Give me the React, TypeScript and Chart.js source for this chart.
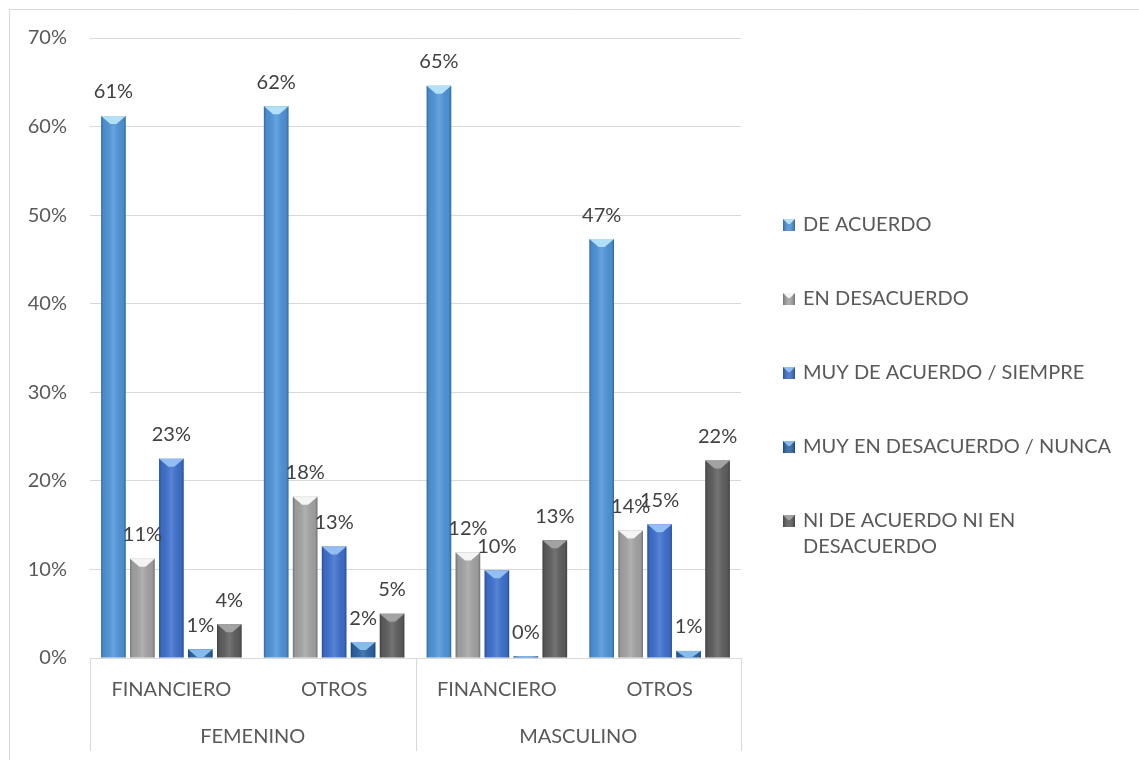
import React, { useEffect, useRef } from "react";
import { Chart, registerables } from "chart.js";

Chart.register(...registerables);

// ---- data ----
const groups = ["FEMENINO", "MASCULINO"];
const categories = ["FINANCIERO", "OTROS", "FINANCIERO", "OTROS"];
const categoryGroup = [0, 0, 1, 1];

const seriesNames = [
  "DE ACUERDO",
  "EN DESACUERDO",
  "MUY DE ACUERDO / SIEMPRE",
  "MUY EN DESACUERDO / NUNCA",
  "NI DE ACUERDO NI EN DESACUERDO",
];
const legendLines = [
  ["DE ACUERDO"],
  ["EN DESACUERDO"],
  ["MUY DE ACUERDO / SIEMPRE"],
  ["MUY EN DESACUERDO / NUNCA"],
  ["NI DE ACUERDO NI EN", "DESACUERDO"],
];

const deAcuerdo = [61.2, 62.3, 64.6, 47.3];
const enDesacuerdo = [11.2, 18.2, 11.9, 14.4];
const muyDeAcuerdo = [22.5, 12.6, 9.9, 15.1];
const muyEnDesacuerdo = [1.0, 1.8, 0.2, 0.8];
const niNi = [3.8, 5.0, 13.3, 22.3];

const yTickValues = [0, 10, 20, 30, 40, 50, 60, 70];

// ---- styles ----
const seriesColors = ["#4e95da", "#a4a4a4", "#3d70cf", "#2b64a6", "#5e5e5e"];
const topColors = ["#b2e0f8", "#f4f4f4", "#94bdf2", "#86bbec", "#a2a2a2"];
const FONT = "Lato, 'Open Sans', sans-serif";
const FS = 20;
const TEXT = "#595959";

const seriesValues = [deAcuerdo, enDesacuerdo, muyDeAcuerdo, muyEnDesacuerdo, niNi];

const framePlugin = {
  id: "frame",
  beforeDraw(chart: any) {
    const ctx = chart.ctx;
    ctx.save();
    ctx.fillStyle = "#ffffff";
    ctx.fillRect(0, 0, chart.width, chart.height);
    ctx.strokeStyle = "#d9d9d9";
    ctx.lineWidth = 1;
    ctx.beginPath();
    ctx.moveTo(9.5, chart.height);
    ctx.lineTo(9.5, 9.5);
    ctx.lineTo(chart.width, 9.5);
    ctx.stroke();
    ctx.restore();
  },
};

const bevelPlugin = {
  id: "bevel",
  afterDatasetsDraw(chart: any) {
    const ctx = chart.ctx;
    chart.data.datasets.forEach((_ds: any, di: number) => {
      const meta = chart.getDatasetMeta(di);
      meta.data.forEach((bar: any) => {
        const { x, y, base, width } = bar.getProps(["x", "y", "base", "width"], true);
        const l = x - width / 2;
        const r = x + width / 2;
        const h = base - y;
        if (h <= 0) return;
        ctx.save();
        const g = ctx.createLinearGradient(l, 0, r, 0);
        g.addColorStop(0, "rgba(0,0,0,0.30)");
        g.addColorStop(0.1, "rgba(0,0,0,0.06)");
        g.addColorStop(0.5, "rgba(255,255,255,0.14)");
        g.addColorStop(0.9, "rgba(0,0,0,0.06)");
        g.addColorStop(1, "rgba(0,0,0,0.30)");
        ctx.fillStyle = g;
        ctx.fillRect(l, y, width, h);
        const bh = Math.min(8, h);
        ctx.beginPath();
        ctx.moveTo(l, y);
        ctx.lineTo(r, y);
        ctx.lineTo(x + 3, y + bh);
        ctx.lineTo(x - 3, y + bh);
        ctx.closePath();
        ctx.fillStyle = topColors[di];
        ctx.fill();
        ctx.restore();
      });
    });
  },
};

const labelPlugin = {
  id: "valueLabels",
  afterDatasetsDraw(chart: any) {
    const ctx = chart.ctx;
    ctx.save();
    ctx.font = `${FS}px ${FONT}`;
    ctx.fillStyle = "#404040";
    ctx.textAlign = "center";
    ctx.textBaseline = "middle";
    chart.data.datasets.forEach((ds: any, di: number) => {
      const meta = chart.getDatasetMeta(di);
      meta.data.forEach((bar: any, i: number) => {
        const { x, y } = bar.getProps(["x", "y"], true);
        ctx.fillText(Math.round(ds.data[i]) + "%", x, y - 24);
      });
    });
    ctx.restore();
  },
};

const axisGroupPlugin = {
  id: "axisGroups",
  afterDraw(chart: any) {
    const ctx = chart.ctx;
    const xs = chart.scales.x;
    const area = chart.chartArea;
    const catW = (area.right - area.left) / categories.length;
    ctx.save();
    ctx.strokeStyle = "#d9d9d9";
    ctx.lineWidth = 1;
    ctx.font = `${FS}px ${FONT}`;
    ctx.fillStyle = TEXT;
    ctx.textAlign = "center";
    ctx.textBaseline = "middle";
    groups.forEach((gname, g) => {
      const idx = categoryGroup.map((cg, i) => (cg === g ? i : -1)).filter((i) => i >= 0);
      const left = xs.getPixelForValue(idx[0]) - catW / 2;
      const right = xs.getPixelForValue(idx[idx.length - 1]) + catW / 2;
      [left, right].forEach((px) => {
        const xx = Math.round(px) + 0.5;
        ctx.beginPath();
        ctx.moveTo(xx, area.bottom);
        ctx.lineTo(xx, 751);
        ctx.stroke();
      });
      ctx.fillText(gname, (left + right) / 2, 737);
    });
    ctx.restore();
  },
};

const legendPlugin = {
  id: "sideLegend",
  afterDraw(chart: any) {
    const ctx = chart.ctx;
    const startY = 225;
    const step = 74;
    ctx.save();
    ctx.font = `${FS}px ${FONT}`;
    ctx.textAlign = "left";
    ctx.textBaseline = "middle";
    legendLines.forEach((lines, i) => {
      const cy = startY + i * step;
      const bx = 783;
      const by = cy - 6;
      ctx.fillStyle = seriesColors[i];
      ctx.fillRect(bx, by, 12, 12);
      const g = ctx.createLinearGradient(bx, 0, bx + 12, 0);
      g.addColorStop(0, "rgba(0,0,0,0.3)");
      g.addColorStop(0.5, "rgba(255,255,255,0.1)");
      g.addColorStop(1, "rgba(0,0,0,0.3)");
      ctx.fillStyle = g;
      ctx.fillRect(bx, by, 12, 12);
      ctx.beginPath();
      ctx.moveTo(bx, by);
      ctx.lineTo(bx + 12, by);
      ctx.lineTo(bx + 7, by + 5);
      ctx.lineTo(bx + 5, by + 5);
      ctx.closePath();
      ctx.fillStyle = topColors[i];
      ctx.fill();
      ctx.fillStyle = TEXT;
      lines.forEach((ln, li) => {
        ctx.fillText(ln, 803, cy + li * 26);
      });
    });
    ctx.restore();
  },
};

export default function App() {
  const ref = useRef<HTMLCanvasElement | null>(null);
  useEffect(() => {
    if (!ref.current) return;
    const chart = new Chart(ref.current, {
      type: "bar",
      data: {
        labels: categories,
        datasets: seriesNames.map((name, i) => ({
          label: name,
          data: seriesValues[i],
          backgroundColor: seriesColors[i],
          borderWidth: 0,
          categoryPercentage: 0.89,
          barPercentage: 0.85,
        })),
      },
      options: {
        responsive: false,
        animation: false,
        devicePixelRatio: 1,
        layout: { padding: { left: 10, top: 38, right: 398, bottom: 0 } },
        plugins: {
          legend: { display: false },
          tooltip: { enabled: false },
        },
        scales: {
          x: {
            grid: { display: false, drawTicks: false },
            border: { display: true, color: "#d9d9d9" },
            ticks: {
              color: TEXT,
              font: { family: FONT, size: FS },
              padding: 20,
              maxRotation: 0,
              autoSkip: false,
            },
            afterFit: (s: any) => {
              s.height = 102;
            },
          },
          y: {
            min: 0,
            max: 70,
            afterBuildTicks: (s: any) => {
              s.ticks = yTickValues.map((v) => ({ value: v }));
            },
            grid: { color: "#d9d9d9", drawTicks: false },
            border: { display: false },
            ticks: {
              color: TEXT,
              font: { family: FONT, size: FS },
              padding: 23,
              callback: (v: any) => v + "%",
            },
            afterFit: (s: any) => {
              s.width = 80;
            },
          },
        },
      },
      plugins: [framePlugin, bevelPlugin, labelPlugin, axisGroupPlugin, legendPlugin],
    });
    return () => chart.destroy();
  }, []);
  return (
    <div style={{ position: "fixed", left: 0, top: 0, width: 1139, height: 760, background: "#fff" }}>
      <canvas ref={ref} width={1139} height={760} style={{ display: "block" }} />
    </div>
  );
}
